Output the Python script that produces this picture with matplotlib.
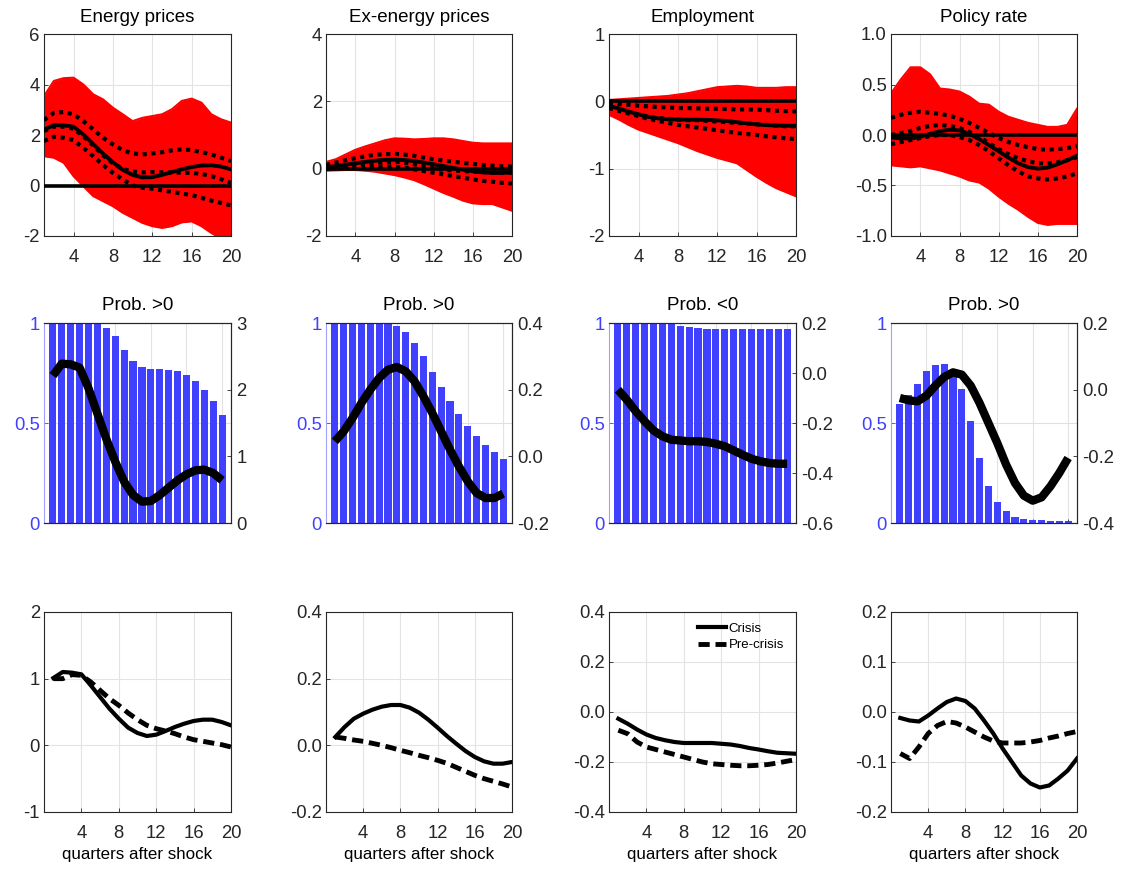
import matplotlib
matplotlib.use('Agg')
import matplotlib.pyplot as plt

plt.rcParams['font.family'] = ['Liberation Sans', 'DejaVu Sans']

quarters = list(range(1, 21))
titles = ['Energy prices', 'Ex-energy prices', 'Employment', 'Policy rate']
prob_titles = ['Prob. >0', 'Prob. >0', 'Prob. <0', 'Prob. >0']
xticks = [4, 8, 12, 16, 20]

# ---------- Row 1: distribution of draws ----------
energy_upper = [3.54, 4.14, 4.25, 4.27, 4.0, 3.61, 3.41, 3.08, 2.82, 2.55, 2.68, 2.75, 2.82, 3.02, 3.35, 3.44, 3.28, 2.82, 2.62, 2.49]
energy_lower = [1.16, 1.10, 0.9, 0.37, -0.03, -0.42, -0.62, -0.82, -1.08, -1.28, -1.48, -1.61, -1.68, -1.61, -1.46, -1.42, -1.61, -1.88, -2.1, -2.1]
energy_p84 = [2.59, 2.88, 2.91, 2.82, 2.55, 2.22, 1.89, 1.63, 1.40, 1.27, 1.23, 1.27, 1.32, 1.39, 1.43, 1.40, 1.32, 1.23, 1.10, 0.97]
energy_p50 = [2.16, 2.33, 2.33, 2.25, 1.95, 1.58, 1.2, 0.88, 0.65, 0.55, 0.52, 0.53, 0.52, 0.52, 0.51, 0.5, 0.46, 0.37, 0.25, 0.1]
energy_p16 = [1.76, 1.93, 1.89, 1.80, 1.49, 1.16, 0.81, 0.50, 0.24, 0.0, -0.09, -0.13, -0.19, -0.25, -0.32, -0.38, -0.49, -0.60, -0.69, -0.79]

exen_upper = [0.2, 0.28, 0.42, 0.56, 0.66, 0.75, 0.84, 0.9, 0.89, 0.87, 0.88, 0.9, 0.9, 0.87, 0.82, 0.77, 0.75, 0.75, 0.75, 0.75]
exen_lower = [-0.06, -0.05, -0.04, -0.04, -0.06, -0.09, -0.14, -0.19, -0.26, -0.34, -0.46, -0.59, -0.72, -0.83, -0.95, -1.03, -1.05, -1.05, -1.15, -1.25]
exen_p84 = [0.11, 0.18, 0.25, 0.31, 0.37, 0.41, 0.43, 0.44, 0.42, 0.38, 0.33, 0.28, 0.24, 0.21, 0.17, 0.14, 0.11, 0.09, 0.07, 0.06]
exen_p50 = [0.01, 0.05, 0.1, 0.14, 0.17, 0.19, 0.2, 0.21, 0.18, 0.13, 0.07, 0.01, -0.03, -0.05, -0.07, -0.09, -0.1, -0.11, -0.12, -0.12]
exen_p16 = [0.0, 0.02, 0.04, 0.06, 0.07, 0.07, 0.07, 0.06, 0.03, -0.02, -0.07, -0.12, -0.17, -0.22, -0.27, -0.32, -0.36, -0.39, -0.42, -0.44]

empl_upper = [0.02, 0.03, 0.04, 0.05, 0.06, 0.07, 0.08, 0.1, 0.12, 0.15, 0.18, 0.21, 0.22, 0.23, 0.22, 0.2, 0.2, 0.2, 0.21, 0.21]
empl_lower = [-0.2, -0.27, -0.35, -0.42, -0.47, -0.52, -0.57, -0.62, -0.68, -0.74, -0.79, -0.84, -0.88, -0.92, -1.02, -1.12, -1.21, -1.29, -1.35, -1.41]
empl_p84 = [-0.02, -0.04, -0.05, -0.065, -0.075, -0.085, -0.09, -0.1, -0.1, -0.105, -0.11, -0.11, -0.115, -0.12, -0.12, -0.125, -0.13, -0.14, -0.145, -0.15]
empl_p50 = [-0.07, -0.11, -0.16, -0.2, -0.23, -0.25, -0.26, -0.27, -0.28, -0.28, -0.29, -0.3, -0.31, -0.32, -0.33, -0.34, -0.35, -0.36, -0.37, -0.37]
empl_p16 = [-0.1, -0.14, -0.18, -0.22, -0.26, -0.29, -0.32, -0.35, -0.37, -0.39, -0.41, -0.43, -0.45, -0.47, -0.485, -0.5, -0.52, -0.535, -0.55, -0.56]

rate_upper = [0.41, 0.55, 0.67, 0.67, 0.6, 0.46, 0.45, 0.43, 0.38, 0.31, 0.3, 0.23, 0.18, 0.15, 0.12, 0.1, 0.08, 0.08, 0.1, 0.26]
rate_lower = [-0.3, -0.31, -0.32, -0.31, -0.33, -0.35, -0.38, -0.41, -0.45, -0.47, -0.53, -0.61, -0.68, -0.74, -0.81, -0.87, -0.89, -0.88, -0.88, -0.88]
rate_p84 = [0.17, 0.2, 0.22, 0.23, 0.22, 0.21, 0.19, 0.16, 0.12, 0.07, 0.02, -0.03, -0.07, -0.1, -0.12, -0.14, -0.145, -0.14, -0.13, -0.11]
rate_p50 = [0.0, 0.02, 0.04, 0.07, 0.09, 0.1, 0.09, 0.07, 0.03, -0.02, -0.08, -0.14, -0.19, -0.23, -0.26, -0.28, -0.28, -0.27, -0.25, -0.22]
rate_p16 = [-0.09, -0.07, -0.05, -0.03, -0.01, 0.0, 0.0, -0.02, -0.05, -0.1, -0.16, -0.23, -0.3, -0.36, -0.41, -0.43, -0.44, -0.43, -0.41, -0.38]

# point estimates (rows 1 and 2)
energy_point = [2.21, 2.39, 2.38, 2.33, 2.02, 1.64, 1.26, 0.92, 0.62, 0.42, 0.32, 0.33, 0.42, 0.53, 0.64, 0.73, 0.79, 0.80, 0.75, 0.64]
exen_point = [0.045, 0.075, 0.115, 0.16, 0.20, 0.235, 0.26, 0.268, 0.255, 0.225, 0.18, 0.13, 0.075, 0.02, -0.03, -0.075, -0.11, -0.125, -0.125, -0.112]
empl_point = [-0.067, -0.107, -0.153, -0.193, -0.23, -0.253, -0.267, -0.27, -0.273, -0.273, -0.276, -0.283, -0.293, -0.31, -0.327, -0.343, -0.353, -0.36, -0.363, -0.363]
rate_point = [-0.025, -0.032, -0.035, -0.018, 0.012, 0.038, 0.052, 0.045, 0.012, -0.04, -0.1, -0.16, -0.225, -0.28, -0.318, -0.333, -0.323, -0.29, -0.25, -0.205]

# ---------- Row 2: probabilities ----------
energy_prob = [1, 1, 1, 1, 1, 1, 0.975, 0.933, 0.867, 0.81, 0.78, 0.77, 0.77, 0.767, 0.76, 0.74, 0.71, 0.667, 0.61, 0.54]
exen_prob = [1, 1, 1, 1, 1, 1, 1, 0.987, 0.955, 0.90, 0.833, 0.753, 0.68, 0.608, 0.547, 0.487, 0.433, 0.39, 0.355, 0.32]
empl_prob = [1.0, 0.995, 0.995, 1.0, 1.0, 1.0, 0.995, 0.987, 0.98, 0.975, 0.97, 0.97, 0.97, 0.97, 0.97, 0.97, 0.97, 0.97, 0.97, 0.97]
rate_prob = [0.597, 0.642, 0.695, 0.758, 0.79, 0.797, 0.767, 0.67, 0.508, 0.325, 0.183, 0.105, 0.058, 0.03, 0.02, 0.017, 0.013, 0.008, 0.008, 0.012]

# ---------- Row 3: crisis vs pre-crisis ----------
energy_crisis = [1.01, 1.1, 1.09, 1.065, 0.9, 0.725, 0.55, 0.4, 0.265, 0.185, 0.14, 0.16, 0.215, 0.275, 0.325, 0.365, 0.385, 0.385, 0.35, 0.3]
energy_pre = [1.0, 1.0, 1.06, 1.05, 0.95, 0.825, 0.7, 0.6, 0.485, 0.385, 0.3, 0.25, 0.215, 0.175, 0.125, 0.085, 0.06, 0.035, 0.01, -0.025]
exen_crisis = [0.025, 0.055, 0.08, 0.095, 0.107, 0.116, 0.121, 0.121, 0.113, 0.098, 0.077, 0.053, 0.028, 0.005, -0.017, -0.035, -0.048, -0.055, -0.055, -0.05]
exen_pre = [0.025, 0.021, 0.016, 0.012, 0.006, 0.0, -0.007, -0.015, -0.022, -0.03, -0.037, -0.045, -0.054, -0.066, -0.078, -0.09, -0.1, -0.108, -0.116, -0.125]
empl_crisis = [-0.027, -0.047, -0.07, -0.09, -0.104, -0.113, -0.12, -0.124, -0.124, -0.124, -0.124, -0.127, -0.13, -0.136, -0.144, -0.15, -0.157, -0.163, -0.165, -0.167]
empl_pre = [-0.073, -0.087, -0.12, -0.14, -0.15, -0.16, -0.17, -0.18, -0.19, -0.2, -0.207, -0.21, -0.213, -0.215, -0.215, -0.213, -0.21, -0.204, -0.197, -0.19]
rate_crisis = [-0.012, -0.017, -0.019, -0.007, 0.007, 0.02, 0.027, 0.022, 0.007, -0.017, -0.043, -0.073, -0.1, -0.127, -0.143, -0.151, -0.147, -0.133, -0.117, -0.093]
rate_pre = [-0.083, -0.093, -0.07, -0.043, -0.027, -0.019, -0.022, -0.03, -0.04, -0.05, -0.058, -0.062, -0.062, -0.062, -0.06, -0.057, -0.052, -0.048, -0.043, -0.039]

upper = [energy_upper, exen_upper, empl_upper, rate_upper]
lower = [energy_lower, exen_lower, empl_lower, rate_lower]
p84 = [energy_p84, exen_p84, empl_p84, rate_p84]
p50 = [energy_p50, exen_p50, empl_p50, rate_p50]
p16 = [energy_p16, exen_p16, empl_p16, rate_p16]
points = [energy_point, exen_point, empl_point, rate_point]
probs = [energy_prob, exen_prob, empl_prob, rate_prob]
crisis = [energy_crisis, exen_crisis, empl_crisis, rate_crisis]
precrisis = [energy_pre, exen_pre, empl_pre, rate_pre]

row1_yticks = [[-2, 0, 2, 4, 6], [-2, 0, 2, 4], [-2, -1, 0, 1], [-1.0, -0.5, 0.0, 0.5, 1.0]]
row1_fmt = ['{:.0f}', '{:.0f}', '{:.0f}', '{:.1f}']
row2_yticks = [[0, 1, 2, 3], [-0.2, 0.0, 0.2, 0.4], [-0.6, -0.4, -0.2, 0.0, 0.2], [-0.4, -0.2, 0.0, 0.2]]
row2_fmt = ['{:.0f}', '{:.1f}', '{:.1f}', '{:.1f}']
row3_yticks = [[-1, 0, 1, 2], [-0.2, 0.0, 0.2, 0.4], [-0.4, -0.2, 0.0, 0.2, 0.4], [-0.2, -0.1, 0.0, 0.1, 0.2]]
row3_fmt = ['{:.0f}', '{:.1f}', '{:.1f}', '{:.1f}']

W, H = 1121, 876
fig = plt.figure(figsize=(W / 100, H / 100), dpi=100)

cols = [(44, 231), (326, 512), (609, 796), (891, 1077)]
rows = [(34, 236), (323, 523), (612, 812)]

AX_COL = '#262626'
GRID = '#e3e3e3'
BLUE = '#4040ff'
TICK_FS = 13.3


def make_ax(r, c):
    l, rr = cols[c]
    t, b = rows[r]
    return fig.add_axes([l / W, 1 - b / H, (rr - l) / W, (b - t) / H])


def style(ax):
    for s in ax.spines.values():
        s.set_color(AX_COL)
        s.set_linewidth(0.8)
    ax.tick_params(direction='in', length=3, width=0.6, colors=AX_COL, labelsize=TICK_FS)
    ax.tick_params(axis='x', pad=9)
    ax.tick_params(axis='y', pad=3)


def fmt_labels(vals, f):
    return [f.format(v).replace('-0.0', '0.0') if f != '{:.0f}' else f.format(v) for v in vals]


for c in range(4):
    # Row 1
    ax = make_ax(0, c)
    style(ax)
    ax.set_axisbelow(True)
    ax.grid(True, color=GRID, lw=0.8)
    ax.fill_between(quarters, lower[c], upper[c], color='#ff0000', lw=0, zorder=2)
    ax.plot(quarters, upper[c], color='#ff0000', lw=1.5, zorder=2)
    ax.plot(quarters, lower[c], color='#ff0000', lw=1.5, zorder=2)
    ax.axhline(0, color='black', lw=2.6, zorder=3)
    ax.plot(quarters, points[c], color='black', lw=2.8, zorder=4)
    for p in (p84[c], p50[c], p16[c]):
        ax.plot(quarters, p, color='black', lw=3, linestyle=(0, (1, 1.1)), zorder=5)
    ax.set_xlim(1, 20)
    yt = row1_yticks[c]
    ax.set_ylim(yt[0], yt[-1])
    ax.set_yticks(yt)
    ax.set_yticklabels(fmt_labels(yt, row1_fmt[c]))
    ax.set_xticks(xticks)
    ax.set_title(titles[c], fontsize=13.5, pad=9)

    # Row 2
    ax = make_ax(1, c)
    style(ax)
    ax.set_axisbelow(True)
    ax.xaxis.grid(True, color=GRID, lw=0.8)
    ax.yaxis.grid(True, color='#dcdcff', lw=0.8)
    ax.bar(quarters, probs[c], width=0.8, color=BLUE, zorder=2)
    ax.set_xlim(0, 21)
    ax.set_ylim(0, 1)
    ax.set_yticks([0, 0.5, 1])
    ax.set_yticklabels(['0', '0.5', '1'])
    ax.tick_params(axis='y', colors=BLUE, labelcolor=BLUE)
    ax.spines['left'].set_color('#a0a0ff')
    ax.set_xticks(xticks)
    ax.set_xticklabels([])
    ax.set_title(prob_titles[c], fontsize=13.5, pad=9)
    ax2 = ax.twinx()
    style(ax2)
    ax2.plot(quarters, points[c], color='black', lw=6, solid_capstyle='butt')
    yt = row2_yticks[c]
    ax2.set_ylim(yt[0], yt[-1])
    ax2.set_yticks(yt)
    ax2.set_yticklabels(fmt_labels(yt, row2_fmt[c]))
    ax2.tick_params(axis='y', pad=4)
    ax2.spines['left'].set_visible(False)

    # Row 3
    ax = make_ax(2, c)
    style(ax)
    ax.set_axisbelow(True)
    ax.grid(True, color=GRID, lw=0.8)
    ax.plot(quarters, crisis[c], color='black', lw=3, label='Crisis')
    ax.plot(quarters, precrisis[c], color='black', lw=3.5, linestyle=(0, (2.3, 1.2)), label='Pre-crisis')
    ax.set_xlim(0, 20)
    yt = row3_yticks[c]
    ax.set_ylim(yt[0], yt[-1])
    ax.set_yticks(yt)
    ax.set_yticklabels(fmt_labels(yt, row3_fmt[c]))
    ax.set_xticks(xticks)
    ax.set_xlabel('quarters after shock', fontsize=12.2, labelpad=4)
    if c == 2:
        ax.legend(loc='upper left', bbox_to_anchor=(0.45, 0.975), frameon=False,
                  fontsize=9.5, handlelength=2.1, handletextpad=0.2, labelspacing=0.35,
                  borderaxespad=0)

fig.savefig('out.png', dpi=100, facecolor='white')
